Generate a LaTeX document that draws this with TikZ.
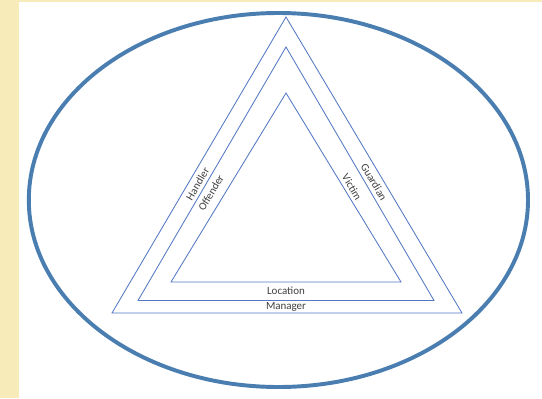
\documentclass[tikz,border=0pt]{standalone}
\usepackage{fontspec}
\setmainfont{Carlito}
\usepackage{xcolor}
\usetikzlibrary{positioning,calc}

\definecolor{paper}{RGB}{247,235,186}
\definecolor{ringblue}{RGB}{74,126,176}
\definecolor{lineblue}{RGB}{84,120,196}
\definecolor{labelgray}{RGB}{64,64,64}

\tikzset{
    side/.style={draw=lineblue, line width=0.6pt, line join=miter},
    lbl/.style={text=labelgray, font=\fontsize{7.8}{9}\selectfont, inner sep=0pt}
}

\begin{document}
\begin{tikzpicture}
    % Page and frame
    \useasboundingbox (0,0) rectangle (13.55,9.95);
    \fill[paper] (0,0) rectangle (13.55,9.95);
    \fill[white] (0.475,0) rectangle (13.55,9.9);

    % Outer ellipse
    \draw[ringblue, line width=2.8pt] (6.96,4.95) ellipse (6.24cm and 4.675cm);

    % Three triangles
    \draw[side] (2.8,2.125) -- (7.15,9.525) -- (11.55,2.125) -- cycle;
    \draw[side] (3.45,2.4375) -- (7.15,8.775) -- (10.85,2.4375) -- cycle;
    \draw[side] (4.275,2.9) -- (7.15,7.625) -- (10.025,2.9) -- cycle;

    % Labels along the sides
    \node[lbl, rotate=59.5] (handler) at (4.94,5.35) {Handler};
    \node[lbl, rotate=59.5] (offender) at (5.275,5.125) {Offender};
    \node[lbl, rotate=-59.5] (victim) at (8.8,5.275) {Victim};
    \node[lbl, rotate=-59.5] (guardian) at (9.35,5.4) {Guardian};

    % Labels along the base
    \node[lbl] (location) at (7.15,2.675) {Location};
    \node[lbl] (manager) at (7.15,2.28) {Manager};
\end{tikzpicture}
\end{document}
